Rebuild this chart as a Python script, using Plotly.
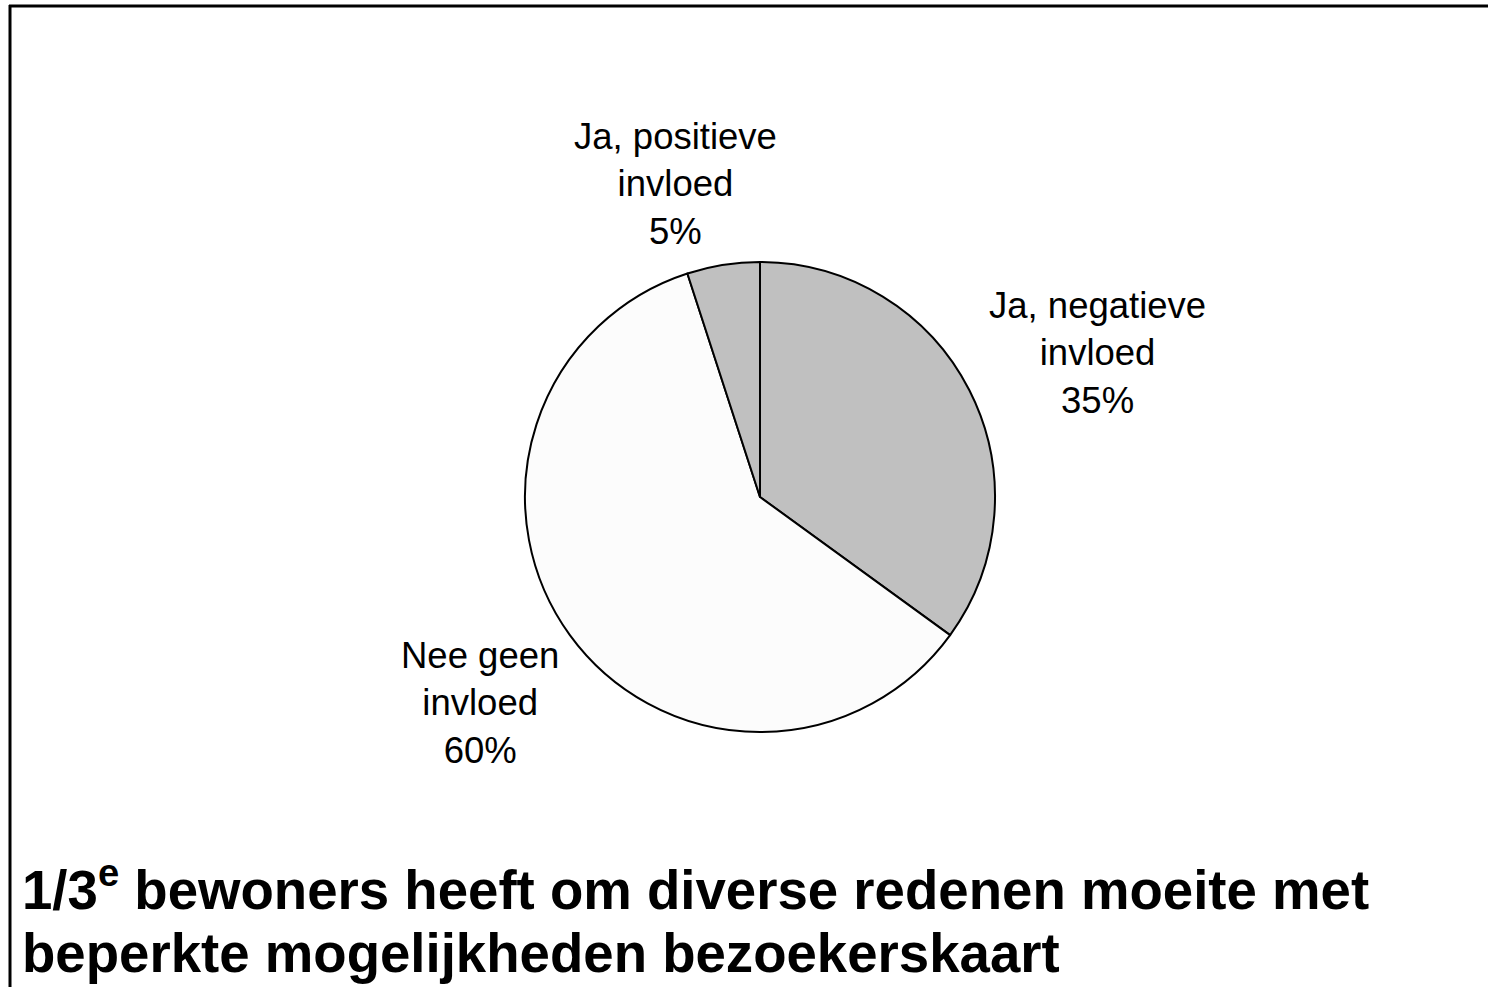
import plotly.graph_objects as go

labels = ["Ja, negatieve<br>invloed", "Nee geen<br>invloed", "Ja, positieve<br>invloed"]
values = [35, 60, 5]
colors = ["#C0C0C0", "#FCFCFC", "#C0C0C0"]
title_lines = ["1/3<sup>e</sup> bewoners heeft om diverse redenen moeite met",
               "beperkte mogelijkheden bezoekerskaart"]

W, H = 1488, 987
FONT = "Liberation Sans, Arial, sans-serif"

fig = go.Figure(go.Pie(
    labels=labels, values=values, sort=False, direction="clockwise", rotation=0,
    marker=dict(colors=colors, line=dict(color="black", width=2)),
    textinfo="none", hoverinfo="label+percent", showlegend=False,
    domain=dict(x=[523 / W, 997 / W], y=[1 - 732 / H, 1 - 262 / H]),
))

label_pos = [(1097, 353), (480, 703), (675, 184)]
total = sum(values)
for lab, v, (px, py) in zip(labels, values, label_pos):
    fig.add_annotation(x=px / W, y=1 - py / H, xref="paper", yref="paper",
                       text=f"{lab}<br>{round(100 * v / total)}%", showarrow=False,
                       xanchor="center", yanchor="middle", align="center",
                       font=dict(family=FONT, size=36.5, color="black"))

for line, cy in zip(title_lines, [886, 953]):
    fig.add_annotation(x=20 / W, y=1 - cy / H, xref="paper", yref="paper",
                       text=f"<b>{line}</b>", showarrow=False,
                       xanchor="left", yanchor="middle", align="left",
                       font=dict(family=FONT, size=54.6, color="black"))

fig.add_shape(type="line", xref="paper", yref="paper", x0=10 / W, x1=10 / W,
              y0=0, y1=1 - 5 / H, line=dict(color="black", width=3))
fig.add_shape(type="line", xref="paper", yref="paper", x0=9 / W, x1=1,
              y0=1 - 6 / H, y1=1 - 6 / H, line=dict(color="black", width=3))

fig.update_layout(width=W, height=H, margin=dict(l=0, r=0, t=0, b=0),
                  paper_bgcolor="white", plot_bgcolor="white")
fig.write_html("out.html", config={"displayModeBar": False},
               post_script="document.body.style.margin='0';document.body.style.overflow='hidden';")
